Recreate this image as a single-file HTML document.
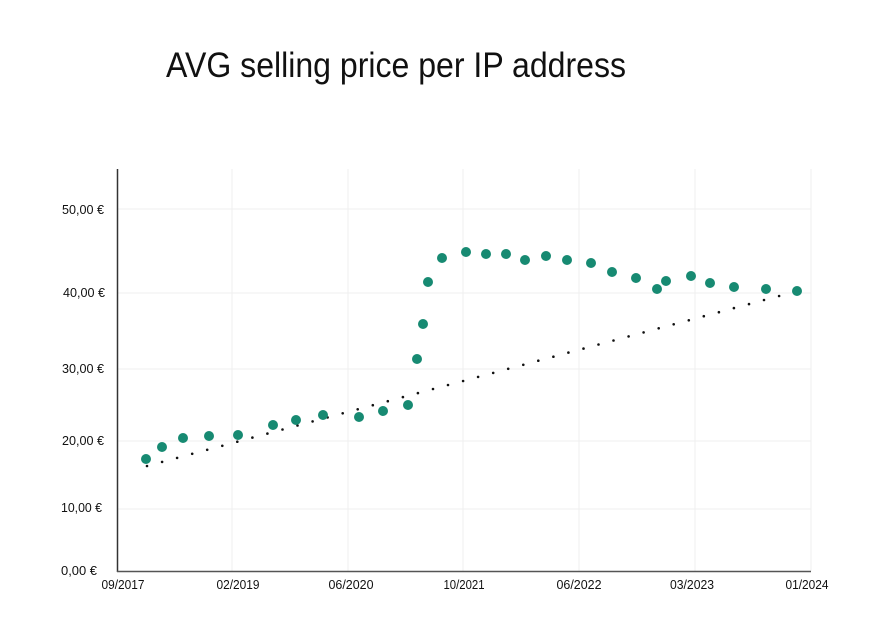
<!DOCTYPE html>
<html><head><meta charset="utf-8"><style>
html,body{margin:0;padding:0;background:#fff;}
svg{display:block;font-family:"Liberation Sans",sans-serif;}
</style></head><body>
<svg id="s" width="875" height="634" viewBox="0 0 875 634" xmlns="http://www.w3.org/2000/svg">
<rect width="875" height="634" fill="#fff"/>
<text x="166" y="77" font-size="35" fill="#111" textLength="460" lengthAdjust="spacingAndGlyphs">AVG selling price per IP address</text>
<g stroke="#efefef" stroke-width="1">
<line x1="232" y1="169" x2="232" y2="571"/>
<line x1="348" y1="169" x2="348" y2="571"/>
<line x1="463" y1="169" x2="463" y2="571"/>
<line x1="579" y1="169" x2="579" y2="571"/>
<line x1="695" y1="169" x2="695" y2="571"/>
<line x1="811" y1="169" x2="811" y2="571"/>
<line x1="117" y1="209" x2="811" y2="209"/>
<line x1="117" y1="293" x2="811" y2="293"/>
<line x1="117" y1="369" x2="811" y2="369"/>
<line x1="117" y1="441" x2="811" y2="441"/>
<line x1="117" y1="509" x2="811" y2="509"/>
</g>
<line x1="117.5" y1="169" x2="117.5" y2="572" stroke="#333" stroke-width="1.5"/>
<line x1="117" y1="571.5" x2="811" y2="571.5" stroke="#555" stroke-width="1.5"/>
<g font-size="12.5" fill="#111" text-anchor="end">
<text x="104" y="214" textLength="42" lengthAdjust="spacingAndGlyphs">50,00 €</text>
<text x="105" y="297" textLength="42" lengthAdjust="spacingAndGlyphs">40,00 €</text>
<text x="104" y="373" textLength="42" lengthAdjust="spacingAndGlyphs">30,00 €</text>
<text x="104" y="445" textLength="42" lengthAdjust="spacingAndGlyphs">20,00 €</text>
<text x="102" y="512" textLength="41" lengthAdjust="spacingAndGlyphs">10,00 €</text>
<text x="97" y="575" textLength="36" lengthAdjust="spacingAndGlyphs">0,00 €</text>
</g>
<g font-size="12.5" fill="#111" text-anchor="middle">
<text x="123" y="589" textLength="43" lengthAdjust="spacingAndGlyphs">09/2017</text>
<text x="238" y="589" textLength="43" lengthAdjust="spacingAndGlyphs">02/2019</text>
<text x="351" y="589" textLength="45" lengthAdjust="spacingAndGlyphs">06/2020</text>
<text x="464" y="589" textLength="41" lengthAdjust="spacingAndGlyphs">10/2021</text>
<text x="579" y="589" textLength="45" lengthAdjust="spacingAndGlyphs">06/2022</text>
<text x="692" y="589" textLength="44" lengthAdjust="spacingAndGlyphs">03/2023</text>
<text x="807" y="589" textLength="43" lengthAdjust="spacingAndGlyphs">01/2024</text>
</g>
<g id="trend" fill="#111"></g>
<g id="pts" fill="#178a72"></g>
</svg>
<script>
var ns="http://www.w3.org/2000/svg";
var t=document.getElementById("trend");
for(var x=147;x<=781;x+=15.05){
 var y=x<=448?466-(x-147)*81/301:385-(x-448)*89/331;
 var c=document.createElementNS(ns,"circle");c.setAttribute("cx",x.toFixed(1));c.setAttribute("cy",y.toFixed(1));c.setAttribute("r","1.3");t.appendChild(c);
}
var P=[[146,459],[162,447],[183,438],[209,436],[238,435],[273,425],[296,420],[323,415],[359,417],[383,411],[408,405],[417,359],[423,324],[428,282],[442,258],[466,252],[486,254],[506,254],[525,260],[546,256],[567,260],[591,263],[612,272],[636,278],[657,289],[666,281],[691,276],[710,283],[734,287],[766,289],[797,291]];
var g=document.getElementById("pts");
P.forEach(function(p){var c=document.createElementNS(ns,"circle");c.setAttribute("cx",p[0]);c.setAttribute("cy",p[1]);c.setAttribute("r","5");g.appendChild(c);});
</script>
</body></html>
